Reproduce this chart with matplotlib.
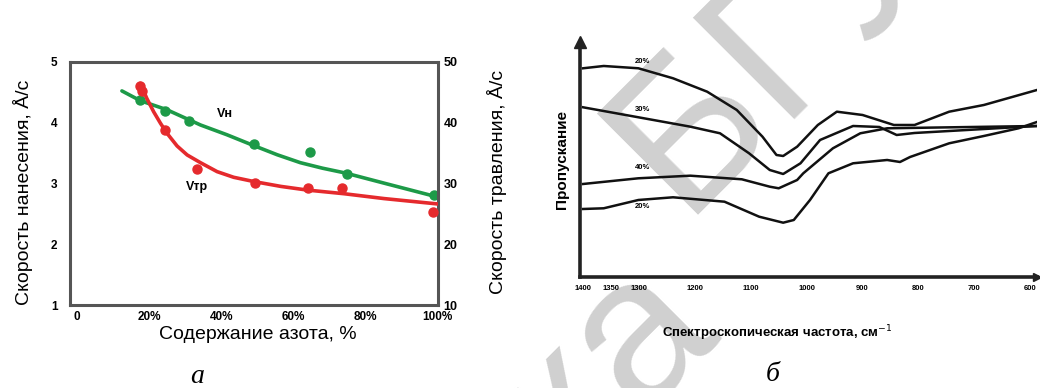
import numpy as np
import matplotlib
matplotlib.use("Agg")
from matplotlib import pyplot as plt

plt.rcParams['font.family'] = ['Liberation Sans', 'DejaVu Sans']

# ---- panel a: deposition / etching rate vs nitrogen content
n_pts_h = [17.5, 24.4, 30.9, 49.0, 64.7, 74.9, 99.0]
v_pts_h = [4.37, 4.19, 4.02, 3.64, 3.52, 3.16, 2.81]
n_fit_h = [12.4, 17.5, 24.9, 34.2, 41.5, 48.6, 55.5, 61.9, 68.0, 74.4, 86.0, 99.0]
v_fit_h = [4.52, 4.36, 4.21, 3.96, 3.80, 3.63, 3.47, 3.34, 3.25, 3.17, 2.99, 2.79]

n_pts_tr = [17.5, 18.0, 24.3, 33.1, 49.4, 64.0, 73.5, 98.8]
v_pts_tr = [46.0, 45.2, 38.8, 32.3, 30.1, 29.3, 29.3, 25.3]
n_fit_tr = [17.5, 19.3, 21.2, 23.1, 24.9, 27.7, 30.5, 34.2, 38.8, 43.4,
            49.0, 56.5, 63.8, 74.0, 85.1, 99.9]
v_fit_tr = [46.45, 43.98, 41.78, 39.88, 38.24, 36.15, 34.67, 33.4, 31.93,
            31.0, 30.3, 29.5, 28.9, 28.3, 27.5, 26.62]

x_ticks_a = [0, 20, 40, 60, 80, 100]
x_labels_a = ["0", "20%", "40%", "60%", "80%", "100%"]

# ---- panel b: transmission spectra
w1 = [1400, 1363, 1301, 1239, 1178, 1125, 1079, 1054, 1042, 1017, 980, 946,
      900, 844, 807, 745, 683, 588]
t1 = [208.7, 211, 208.7, 198.7, 185.3, 167, 140.3, 122, 121, 130.3, 152,
      165.3, 162, 152, 152, 165.3, 172, 187]
w2 = [1400, 1301, 1208, 1155, 1103, 1066, 1042, 1011, 976, 917, 870, 839,
      807, 588]
t2 = [169.7, 159.7, 150.3, 143.7, 123.7, 107, 103, 113.7, 137, 151, 150,
      142, 144, 151]
w3 = [1400, 1301, 1208, 1116, 1066, 1050, 1017, 1006, 953, 904, 856, 588]
t3 = [93, 98.7, 101.3, 97.7, 90.3, 88.7, 97, 103.7, 128.7, 143.7, 148.7, 151]
w4 = [1400, 1363, 1301, 1239, 1147, 1085, 1042, 1023, 994, 961, 917, 856,
      833, 815, 745, 683, 621, 588]
t4 = [68, 68.7, 77, 79.7, 75.3, 60.3, 54.3, 57, 77, 103.7, 113.7, 117,
      115, 120, 133.7, 141, 148.7, 155]
spec_w = [w1, w2, w3, w4]
spec_t = [t1, t2, t3, t4]
spec_names = ["20%", "30%", "40%", "20%"]
spec_name_t = [215, 167, 109, 70]

x_ticks_b = [1400, 1350, 1300, 1200, 1100, 1000, 900, 800, 700, 600]

fig = plt.figure(figsize=(10.4, 3.88), dpi=100)

# watermark
fig.text(0.691, 0.162, "Библиотека", rotation=45, rotation_mode='anchor',
         ha='right', va='baseline', fontsize=150, color='#d0d0d0', zorder=-1)
fig.text(0.655, 0.446, "БГУИР", rotation=45, rotation_mode='anchor',
         ha='left', va='baseline', fontsize=150, color='#d0d0d0', zorder=-1)

green = '#1d9a48'
red = '#e52a2d'

ax = fig.add_axes([0.0673, 0.2139, 0.3536, 0.627])
ax.set_facecolor('none')
ax.plot(n_fit_h, v_fit_h, color=green, lw=2.6, solid_capstyle='round')
ax.plot(n_pts_h, v_pts_h, 'o', color=green, ms=6.5)
ax.set_xlim(-2, 100)
ax.set_ylim(1, 5)
ax.set_yticks([1, 2, 3, 4, 5])
ax.set_xticks(x_ticks_a)
ax.set_xticklabels(x_labels_a)
ax.tick_params(length=0, labelsize=8.5)
ax.tick_params(axis='y', pad=9)
ax.tick_params(axis='x', pad=4)
for t in ax.get_xticklabels() + ax.get_yticklabels():
    t.set_fontweight('bold')
for s in ax.spines.values():
    s.set_color('#555555')
    s.set_linewidth(2.2)
ax.text(41, 4.14, "Vн", fontsize=9, fontweight='bold', ha='center', va='center')
ax.text(33.3, 2.94, "Vтр", fontsize=9, fontweight='bold', ha='center', va='center')

axr = ax.twinx()
axr.plot(n_fit_tr, v_fit_tr, color=red, lw=2.6, solid_capstyle='round')
axr.plot(n_pts_tr, v_pts_tr, 'o', color=red, ms=6.5)
axr.set_ylim(10, 50)
axr.set_yticks([10, 20, 30, 40, 50])
axr.tick_params(length=0, labelsize=9, pad=4)
for t in axr.get_yticklabels():
    t.set_fontweight('bold')
for s in axr.spines.values():
    s.set_visible(False)

fig.text(0.022, 0.505, "Скорость нанесения, Å/c", rotation=90, ha='center',
         va='center', fontsize=14)
fig.text(0.478, 0.531, "Скорость травления, Å/c", rotation=90, ha='center',
         va='center', fontsize=14)
fig.text(0.248, 0.137, "Содержание азота, %", ha='center', va='center',
         fontsize=14)
fig.text(0.19, 0.03, "а", ha='center', va='center', fontsize=20,
         family='Liberation Serif', style='italic')

# panel b
bx = fig.add_axes([0.5577, 0.2861, 0.4394, 0.6057])
bx.set_facecolor('none')
for w, t in zip(spec_w, spec_t):
    bx.plot(w, t, color='#111111', lw=1.8)
for name, y in zip(spec_names, spec_name_t):
    bx.text(1293, y, name, fontsize=5.5, fontweight='bold', ha='center',
            va='center')
bx.set_xlim(1405.4, 588)
bx.set_ylim(0, 235)
bx.set_yticks([])
bx.set_xticks(x_ticks_b)
bx.set_xticklabels([str(v) for v in x_ticks_b])
bx.tick_params(length=0, labelsize=5.5, pad=6)
for t in bx.get_xticklabels():
    t.set_fontweight('bold')
bx.spines['top'].set_visible(False)
bx.spines['right'].set_visible(False)
for k in ('left', 'bottom'):
    bx.spines[k].set_linewidth(2.6)
    bx.spines[k].set_color('#222222')
bx.plot(0, 1, '^', color='#222222', ms=8, transform=bx.transAxes, clip_on=False)
bx.plot(1, 0, '>', color='#222222', ms=6, transform=bx.transAxes, clip_on=False)
bx.set_ylabel("Пропускание", fontsize=11, fontweight='bold', labelpad=8)
fig.text(0.747, 0.142, "Спектроскопическая частота, см$^{-1}$", ha='center',
         va='center', fontsize=9.5, fontweight='bold')
fig.text(0.743, 0.035, "б", ha='center', va='center', fontsize=20,
         family='Liberation Serif', style='italic')

fig.savefig("out.png", dpi=100)
